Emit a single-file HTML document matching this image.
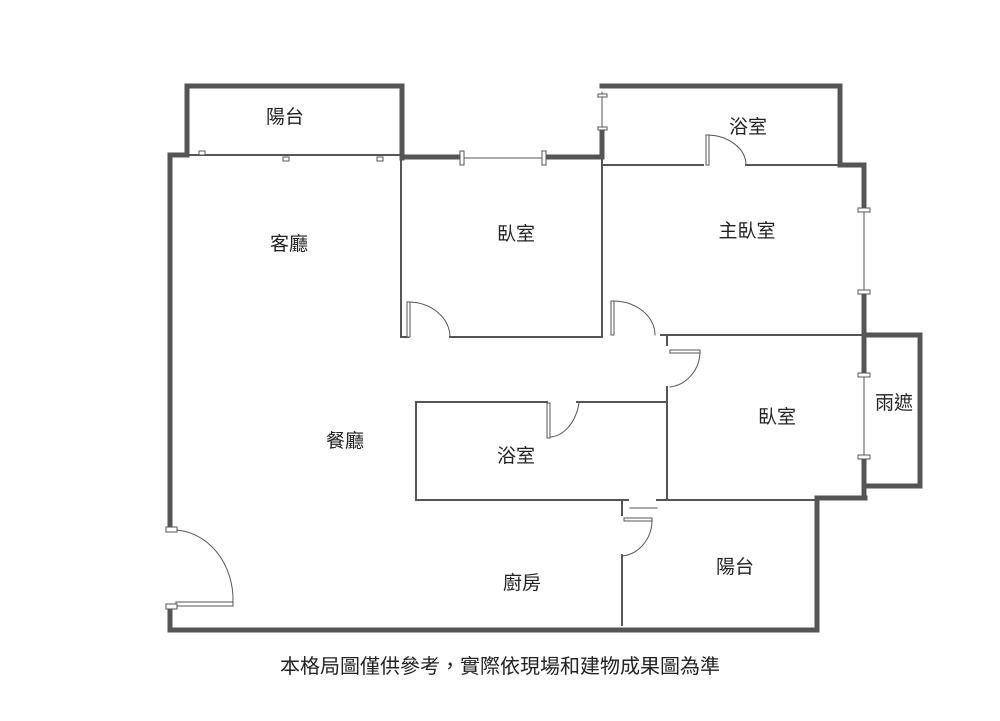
<!DOCTYPE html>
<html><head><meta charset="utf-8"><style>
html,body{margin:0;padding:0;background:#fff;width:1000px;height:721px;overflow:hidden}
svg{display:block}
text{font-family:"Liberation Sans","Noto Sans CJK TC",sans-serif;fill:#222}
</style></head><body>
<svg width="1000" height="721" viewBox="0 0 1000 721">
<g fill="none" stroke="#555" stroke-linecap="square">
<!-- thick outer walls -->
<g stroke-width="5">
<polyline points="170,530 170,155 187,155"/>
<polyline points="170,610 170,630 817,630 817,498 865,498"/>
<polyline points="187,155 187,86 402,86 402,158"/>
<line x1="402" y1="157" x2="462" y2="157"/>
<line x1="545" y1="157" x2="602" y2="157"/>
<line x1="602" y1="157" x2="602" y2="130"/>
<polyline points="602,86 840,86 840,165 864,165 864,210"/>
<line x1="864" y1="292" x2="864" y2="375"/>
<polyline points="864,335 920,335 920,486 866,486"/>
<line x1="864" y1="457" x2="864" y2="498"/>
</g>
<!-- thin lines -->
<g stroke-width="2">
<line x1="190" y1="155" x2="400" y2="155"/>
<line x1="401" y1="157" x2="401" y2="337"/>
<line x1="401" y1="337" x2="408" y2="337"/>
<line x1="450" y1="337" x2="602" y2="337"/>
<line x1="602" y1="160" x2="602" y2="337"/>
<line x1="602" y1="165" x2="703" y2="165"/>
<line x1="746" y1="165" x2="840" y2="165"/>
<line x1="661" y1="335" x2="864" y2="335"/>
<line x1="667" y1="335" x2="667" y2="345"/>
<line x1="667" y1="387" x2="667" y2="498"/>
<line x1="416" y1="402" x2="547" y2="402"/>
<line x1="577" y1="402" x2="667" y2="402"/>
<line x1="416" y1="402" x2="416" y2="500"/>
<line x1="416" y1="500" x2="628" y2="500"/>
<line x1="657" y1="500" x2="817" y2="500"/>
<line x1="622" y1="555" x2="622" y2="625"/>
<line x1="622" y1="500" x2="622" y2="515"/>
</g>
<g stroke-width="1">
<line x1="462" y1="158" x2="545" y2="158"/>
<line x1="602" y1="92" x2="602" y2="130"/>
<line x1="864" y1="210" x2="864" y2="292"/>
<line x1="864" y1="375" x2="864" y2="457"/>
<line x1="630" y1="508" x2="657" y2="508"/>
<!-- door arcs -->
<path d="M408,302 A42,35 0 0 1 450,337"/>
<path d="M707,135 A40,30 0 0 1 746,165"/>
<path d="M612,301 A42,34 0 0 1 655,335"/>
<path d="M700,351 A34,36 0 0 1 670,387"/>
<path d="M579,403 A31,44 0 0 1 548,437"/>
<path d="M652,520 A33,36 0 0 1 622,556"/>
<path d="M173,530 A60,70 0 0 1 233,603"/>
</g>
<!-- door leaves -->
<g stroke-width="1" fill="#fff">
<rect x="407" y="302" width="3" height="35"/>
<rect x="706" y="135" width="3" height="30"/>
<rect x="611" y="301" width="3" height="34"/>
<rect x="670" y="350" width="30" height="3"/>
<rect x="547" y="403" width="3" height="35"/>
<rect x="624" y="518" width="28" height="3"/>
<rect x="176" y="602" width="57" height="4"/>
<rect x="166" y="527" width="11" height="5"/>
<rect x="166" y="604" width="11" height="5"/>
<!-- window markers -->
<rect x="460" y="151" width="4" height="14"/>
<rect x="542" y="151" width="4" height="14"/>
<rect x="598" y="94" width="9" height="3"/>
<rect x="598" y="127" width="9" height="3"/>
<rect x="858" y="208" width="12" height="4"/>
<rect x="858" y="290" width="12" height="4"/>
<rect x="858" y="373" width="12" height="4"/>
<rect x="858" y="455" width="12" height="4"/>
<rect x="199" y="151" width="6" height="4"/>
<rect x="283" y="157" width="6" height="4"/>
<rect x="377" y="157" width="6" height="4"/>
</g>
</g>
<g font-size="19" text-anchor="middle">
<text x="285" y="123">陽台</text>
<text x="289" y="250">客廳</text>
<text x="516" y="240">臥室</text>
<text x="748" y="133">浴室</text>
<text x="747" y="237">主臥室</text>
<text x="777" y="423">臥室</text>
<text x="894" y="409">雨遮</text>
<text x="345" y="447">餐廳</text>
<text x="516" y="462">浴室</text>
<text x="522" y="589">廚房</text>
<text x="735" y="573">陽台</text>
</g>
<text x="500" y="673" font-size="20" text-anchor="middle" fill="#111">本格局圖僅供參考，實際依現場和建物成果圖為準</text>
</svg>
</body></html>
